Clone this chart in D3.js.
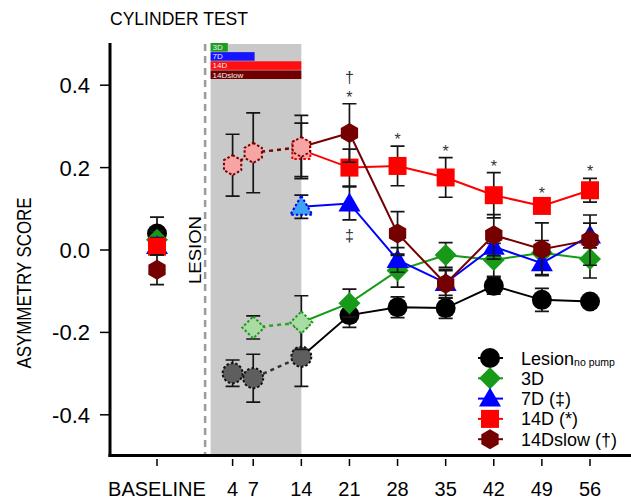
<!DOCTYPE html>
<html>
<head>
<meta charset="utf-8">
<script src="https://cdn.jsdelivr.net/npm/d3@7"></script>
<style>
  body { margin: 0; background: #fff; }
  text { font-family: "Liberation Sans", Arial, sans-serif; }
</style>
</head>
<body>
<div id="chart"></div>
<script>
// axis ticks
const tickDays = [-7, 4, 7, 14, 21, 28, 35, 42, 49, 56];
const tickLabels = ["BASELINE", "4", "7", "14", "21", "28", "35", "42", "49", "56"];
const yTicks = [-0.4, -0.2, 0.0, 0.2, 0.4];

// series values (day -7 = baseline)
const lesionDays = [-7, 4, 7, 14, 21, 28, 35, 42, 49, 56];
const lesionMean = [0.04, -0.299, -0.311, -0.259, -0.158, -0.139, -0.141, -0.087, -0.121, -0.125];
const lesionErr  = [0.04, 0.032, 0.058, 0.072, 0.03, 0.025, 0.025, 0.02, 0.028, 0.012];

const d3Days = [-7, 7, 14, 21, 28, 35, 42, 49, 56];
const d3Mean = [0.025, -0.188, -0.176, -0.129, -0.05, -0.012, -0.024, -0.007, -0.022];
const d3Err  = [0.02, 0.028, 0.065, 0.034, 0.04, 0.03, 0.04, 0.03, 0.046];

const d7Days = [-7, 14, 21, 28, 35, 42, 49, 56];
const d7Mean = [0.01, 0.105, 0.113, -0.024, -0.08, 0.008, -0.032, 0.035];
const d7Err  = [0.02, 0.028, 0.04, 0.03, 0.03, 0.03, 0.028, 0.03];

const d14Days = [-7, 14, 21, 28, 35, 42, 49, 56];
const d14Mean = [0.008, 0.243, 0.2, 0.204, 0.176, 0.133, 0.107, 0.145];
const d14Err  = [0.02, 0.065, 0.045, 0.048, 0.048, 0.055, 0.015, 0.029];

const slowDays = [-7, 4, 7, 14, 21, 28, 35, 42, 49, 56];
const slowMean = [-0.048, 0.206, 0.236, 0.25, 0.284, 0.04, -0.082, 0.036, 0.002, 0.024];
const slowErr  = [0.036, 0.075, 0.097, 0.077, 0.071, 0.053, 0.035, 0.05, 0.064, 0.061];

// pump duration bars
const pumpNames = ["3D", "7D", "14D", "14Dslow"];
const pumpStart = 0.8;
const pumpEnd = [3.3, 7.2, 14, 14];

// significance marks
const markDays   = [21, 21, 28, 35, 42, 49, 56, 21];
const markSeries = ["slow", "slow", "d14", "d14", "d14", "d14", "d14", "d7"];
const markSym    = ["*", "†", "*", "*", "*", "*", "*", "‡"];
const markLevel  = [0, 1, 0, 0, 0, 0, 0, -1];

const series = [
  {key: "lesion", name: "Lesion", sub: "no pump", shape: "circle", color: "#000", light: "#5e5e5e", edge: "#111", dot: "#333",
   days: lesionDays, mean: lesionMean, err: lesionErr},
  {key: "d3", name: "3D", shape: "diamond", color: "#179a17", light: "#a9dca2", edge: "#1f9a1f", dot: "#2aa52a",
   days: d3Days, mean: d3Mean, err: d3Err},
  {key: "d7", name: "7D (‡)", shape: "triangle", color: "#0000ff", light: "#3fa3f5", edge: "#0000ee", dot: "#0000ee",
   days: d7Days, mean: d7Mean, err: d7Err},
  {key: "d14", name: "14D (*)", shape: "square", color: "#ff0000", light: "#ffa3a3", edge: "#ee0000", dot: "#ee0000",
   days: d14Days, mean: d14Mean, err: d14Err},
  {key: "slow", name: "14Dslow (†)", shape: "hex", color: "#740000", light: "#f7a4a4", edge: "#7a0000", dot: "#7a0000",
   days: slowDays, mean: slowMean, err: slowErr}
];
const pumpColors = ["#1e9e1e", "#1414ff", "#ff1010", "#700000"];

const width = 631, height = 503;
const svg = d3.select("#chart").append("svg")
  .attr("width", width).attr("height", height);

const x = d3.scaleLinear().domain([-7, 56]).range([157, 590]);
const y = d3.scaleLinear().domain([-0.5, 0.5]).range([456, 44]);

// marker shapes
function shapePath(type) {
  const p = d3.path();
  if (type === "circle") {
    p.arc(0, 0, 10, 0, 2 * Math.PI);
  } else if (type === "square") {
    p.rect(-9, -9, 18, 18);
  } else if (type === "diamond") {
    p.moveTo(0, -11); p.lineTo(11, 0); p.lineTo(0, 11); p.lineTo(-11, 0); p.closePath();
  } else if (type === "triangle") {
    p.moveTo(0, -11); p.lineTo(11, 8); p.lineTo(-11, 8); p.closePath();
  } else {
    d3.range(6).forEach(i => {
      const a = -Math.PI / 2 + i * Math.PI / 3;
      if (i === 0) p.moveTo(10 * Math.cos(a), 10 * Math.sin(a));
      else p.lineTo(10 * Math.cos(a), 10 * Math.sin(a));
    });
    p.closePath();
  }
  return p.toString();
}

// grey pump period + lesion line
svg.append("rect")
  .attr("x", x(pumpStart)).attr("y", y(0.5))
  .attr("width", x(14) - x(pumpStart)).attr("height", y(-0.5) - y(0.5))
  .attr("fill", "#c9c9c9");

svg.append("line")
  .attr("x1", x(0)).attr("x2", x(0))
  .attr("y1", y(0.5)).attr("y2", y(-0.5))
  .attr("stroke", "#9b9b9b").attr("stroke-width", 2.5)
  .attr("stroke-dasharray", "7,5");

svg.append("text")
  .attr("transform", `translate(${x(0) - 4},${y(0)}) rotate(-90)`)
  .attr("text-anchor", "middle")
  .attr("font-size", 17)
  .attr("textLength", 68).attr("lengthAdjust", "spacingAndGlyphs")
  .text("LESION");

// pump bars
const band = d3.scaleBand().domain(pumpNames).range([43, 79]).paddingInner(0.06);
const bars = svg.append("g");
pumpNames.forEach((n, i) => {
  bars.append("rect")
    .attr("x", x(pumpStart)).attr("y", band(n))
    .attr("width", x(pumpEnd[i]) - x(pumpStart)).attr("height", band.bandwidth())
    .attr("fill", pumpColors[i]);
  bars.append("text")
    .attr("x", x(pumpStart) + 2).attr("y", band(n) + band.bandwidth() - 1.5)
    .attr("font-size", 8).attr("fill", "#eee")
    .text(n);
});

// axes
const yAxis = svg.append("g").attr("transform", "translate(110,0)");
yAxis.append("line").attr("y1", 43).attr("y2", 457).attr("stroke", "#000").attr("stroke-width", 3);
yTicks.forEach(v => {
  yAxis.append("line").attr("x1", -10).attr("x2", 0).attr("y1", y(v)).attr("y2", y(v))
    .attr("stroke", "#000").attr("stroke-width", 1.5);
  yAxis.append("text").attr("x", -20).attr("y", y(v) + 8)
    .attr("text-anchor", "end").attr("font-size", 22)
    .text(d3.format(".1f")(v).replace("−", "-"));
});

svg.append("text")
  .attr("transform", `translate(31,${283}) rotate(-90)`)
  .attr("text-anchor", "middle").attr("font-size", 20)
  .attr("textLength", 171).attr("lengthAdjust", "spacingAndGlyphs")
  .text("ASYMMETRY SCORE");

const xAxis = svg.append("g");
xAxis.append("line").attr("x1", 108.5).attr("x2", width).attr("y1", 455.5).attr("y2", 455.5)
  .attr("stroke", "#000").attr("stroke-width", 3);
tickDays.forEach((d, i) => {
  xAxis.append("line").attr("x1", x(d)).attr("x2", x(d)).attr("y1", 459).attr("y2", 466)
    .attr("stroke", "#000").attr("stroke-width", 1.5);
  xAxis.append("text").attr("x", x(d)).attr("y", 496)
    .attr("text-anchor", "middle").attr("font-size", 20)
    .text(tickLabels[i]);
});

svg.append("text")
  .attr("x", 110).attr("y", 25).attr("font-size", 18)
  .attr("textLength", 138).attr("lengthAdjust", "spacingAndGlyphs")
  .text("CYLINDER TEST");

// series
const isPump = d => d > 0 && d <= 14;
const line = d3.line().x(p => x(p[0])).y(p => y(p[1]));

series.forEach(s => {
  const pts = s.days.map((d, i) => [d, s.mean[i], s.err[i]]);
  const g = svg.append("g");

  const dotted = pts.filter(p => isPump(p[0]));
  if (dotted.length > 1) {
    g.append("path").attr("d", line(dotted)).attr("fill", "none")
      .attr("stroke", s.dot).attr("stroke-width", 2.5).attr("stroke-dasharray", "4,4");
  }
  const solid = pts.filter(p => p[0] >= 14);
  g.append("path").attr("d", line(solid)).attr("fill", "none")
    .attr("stroke", s.color).attr("stroke-width", 2);

  pts.forEach(p => {
    const cx = x(p[0]), top = y(p[1] + p[2]), bot = y(p[1] - p[2]);
    g.append("path")
      .attr("d", `M${cx},${top}V${bot}M${cx - 7},${top}H${cx + 7}M${cx - 7},${bot}H${cx + 7}`)
      .attr("stroke", "#151515").attr("stroke-width", 1.7).attr("fill", "none");
  });

  pts.forEach(p => {
    const m = g.append("path")
      .attr("d", shapePath(s.shape))
      .attr("transform", `translate(${x(p[0])},${y(p[1])})`);
    if (isPump(p[0])) {
      m.attr("fill", s.light).attr("stroke", s.edge)
        .attr("stroke-width", 2).attr("stroke-dasharray", "2.5,2");
    } else {
      m.attr("fill", s.color).attr("stroke", "none");
    }
  });
});

// significance marks
const symShift = {"*": 10, "†": 6, "‡": 6};
markDays.forEach((d, i) => {
  const s = series.find(t => t.key === markSeries[i]);
  const j = s.days.indexOf(d);
  let cy;
  if (markLevel[i] >= 0) cy = y(s.mean[j] + s.err[j]) - 11 - 16 * markLevel[i];
  else cy = y(s.mean[j] - s.err[j]) + 15;
  svg.append("text")
    .attr("x", x(d)).attr("y", cy + symShift[markSym[i]])
    .attr("text-anchor", "middle").attr("font-size", 16).attr("fill", "#333")
    .text(markSym[i]);
});

// legend
const legend = svg.append("g").attr("transform", "translate(490,358)");
series.forEach((s, i) => {
  const row = legend.append("g").attr("transform", `translate(0,${i * 20.3})`);
  row.append("line").attr("x1", -12).attr("x2", 13).attr("stroke", s.color).attr("stroke-width", 2);
  row.append("path").attr("d", shapePath(s.shape)).attr("fill", s.color);
  const t = row.append("text").attr("x", 31).attr("y", 6.5).attr("font-size", 18).text(s.name);
  if (s.sub) t.append("tspan").attr("font-size", 10.5).attr("dy", 1).text(s.sub);
});
</script>
</body>
</html>
